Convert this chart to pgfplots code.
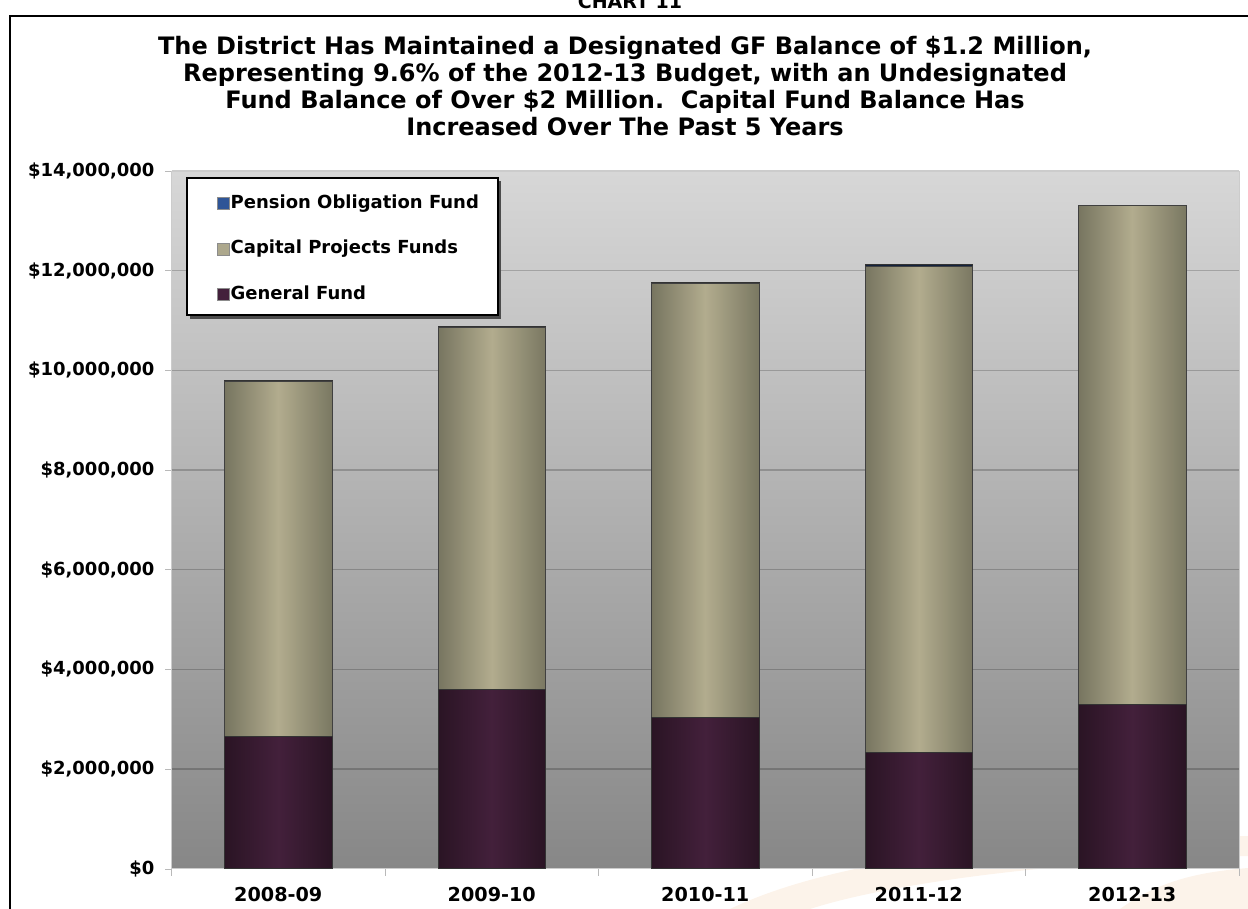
\documentclass[border=0pt]{standalone}
\usepackage{fontspec}
\setmainfont{DejaVu Sans}
\usepackage{pgfplots}
\pgfplotsset{compat=1.18}
\definecolor{capL}{HTML}{777560}
\definecolor{capM}{HTML}{B2AC8E}
\definecolor{capR}{HTML}{7A7862}
\definecolor{gfL}{HTML}{2A1424}
\definecolor{gfM}{HTML}{43203B}
\definecolor{penC}{HTML}{2F5597}
\definecolor{bgTop}{HTML}{D7D7D7}
\definecolor{bgBot}{HTML}{878787}
\definecolor{logo}{HTML}{FCF3EA}
\pgfplotsset{
  capbar/.style={draw=black!75, line width=0.4pt, left color=capL, right color=capR, middle color=capM, forget plot},
  gfbar/.style={draw=black!80, line width=0.4pt, left color=gfL, right color=gfL, middle color=gfM, forget plot},
  penbar/.style={draw=black!80, line width=0.4pt, fill=penC!40!black, forget plot},
  legsq/.style={legend image code/.code={%
    \path[draw=none,fill=none] (0pt,0pt) -- (13pt,0pt);
    \path[draw=black!45, line width=0.3pt, fill=#1] (7.2pt,-3pt) rectangle (13pt,3pt);}},
}
\begin{document}
\begin{tikzpicture}
\useasboundingbox (0,0) rectangle (624pt,-454.5pt);
\clip (0,0) rectangle (624pt,-454.5pt);
% faint decorative logo
\fill[logo] (365pt,-454.5pt) .. controls (420pt,-428pt) and (520pt,-418pt) .. (624pt,-418pt) -- (624pt,-428pt) .. controls (540pt,-430pt) and (450pt,-440pt) .. (405pt,-454.5pt) -- cycle;
\fill[logo] (560pt,-454.5pt) .. controls (580pt,-440pt) and (600pt,-436pt) .. (624pt,-434pt) -- (624pt,-454.5pt) -- cycle;
% frame
\draw[line width=1.1pt] (5pt,-8pt) rectangle (640pt,-470pt);
\node[font=\bfseries\fontsize{9.5}{11}\selectfont, anchor=base, inner sep=0pt] at (315pt,-4.5pt) {CHART 11};
\node[font=\bfseries\fontsize{12}{13.5}\selectfont, align=center, inner sep=0pt] at (312.5pt,-43.25pt)
{The District Has Maintained a Designated GF Balance of \$1.2 Million,\\
Representing 9.6\% of the 2012-13 Budget, with an Undesignated\\
Fund Balance of Over \$2 Million.\ \ Capital Fund Balance Has\\
Increased Over The Past 5 Years};
\begin{axis}[
  at={(85.75pt,-434.35pt)}, anchor=south west,
  scale only axis, width=533.75pt, height=348.85pt,
  xmin=-0.5, xmax=4.5, ymin=0, ymax=14000000,
  ybar, bar shift=0pt, bar width=0.503,
  xtick={0,1,2,3,4},
  xticklabels={2008-09,2009-10,2010-11,2011-12,2012-13},
  minor xtick={-0.5,0.5,1.5,2.5,3.5,4.5},
  ytick={0,2000000,4000000,6000000,8000000,10000000,12000000,14000000},
  yticklabels={{\$0},{\$2,000,000},{\$4,000,000},{\$6,000,000},{\$8,000,000},{\$10,000,000},{\$12,000,000},{\$14,000,000}},
  scaled y ticks=false,
  tick pos=left,
  tick align=outside,
  major tick length=3pt, minor tick length=3.5pt,
  major x tick style={draw=none},
  minor x tick style={draw=gray!55},
  ytick style={draw=gray!55},
  ymajorgrids,
  major grid style={draw=black, opacity=0.2, line width=0.6pt},
  axis line style={draw=gray!40},
  axis background/.style={top color=bgTop, bottom color=bgBot},
  tick label style={font=\bfseries\fontsize{9}{10}\selectfont},
  yticklabel style={xshift=-2pt},
  xticklabel style={yshift=-2.5pt, font=\bfseries\fontsize{9.6}{10}\selectfont},
  legend style={at={(0.0145,0.99)}, anchor=north west, draw=none, fill=none,
    inner xsep=8pt, inner ysep=7.5pt, row sep=12.75pt,
    font=\bfseries\fontsize{9}{10}\selectfont,
    nodes={inner sep=0.5pt, text height=7pt, text depth=2pt, anchor=west}},
  legend cell align=left,
]
% legend box with shadow (drawn before the legend itself)
\fill[black!70] (rel axis cs:0.0175,0.7885) rectangle (rel axis cs:0.3089,0.9850);
\filldraw[fill=white, draw=black, line width=0.8pt] (rel axis cs:0.0145,0.7935) rectangle (rel axis cs:0.3059,0.9900);
\addlegendimage{legsq=penC}
\addlegendentry{Pension Obligation Fund}
\addlegendimage{legsq=capM!90!gray}
\addlegendentry{Capital Projects Funds}
\addlegendimage{legsq=gfM}
\addlegendentry{General Fund}
% Bars drawn from 0 and overlaid: Pension top (total), Capital top (GF + Capital), General Fund
% 2008-09: GF 2,650,000; Capital 7,120,000; Pension 20,000
\addplot[penbar] coordinates {(0,9790000)};
\addplot[capbar] coordinates {(0,9770000)};
\addplot[gfbar]  coordinates {(0,2650000)};
% 2009-10: GF 3,600,000; Capital 7,260,000; Pension 20,000
\addplot[penbar] coordinates {(1,10880000)};
\addplot[capbar] coordinates {(1,10860000)};
\addplot[gfbar]  coordinates {(1,3600000)};
% 2010-11: GF 3,040,000; Capital 8,700,000; Pension 20,000
\addplot[penbar] coordinates {(2,11760000)};
\addplot[capbar] coordinates {(2,11740000)};
\addplot[gfbar]  coordinates {(2,3040000)};
% 2011-12: GF 2,330,000; Capital 9,750,000; Pension 40,000
\addplot[penbar] coordinates {(3,12120000)};
\addplot[capbar] coordinates {(3,12080000)};
\addplot[gfbar]  coordinates {(3,2330000)};
% 2012-13: GF 3,300,000; Capital 10,000,000; Pension 10,000
\addplot[penbar] coordinates {(4,13310000)};
\addplot[capbar] coordinates {(4,13300000)};
\addplot[gfbar]  coordinates {(4,3300000)};
\end{axis}
\end{tikzpicture}
\end{document}
